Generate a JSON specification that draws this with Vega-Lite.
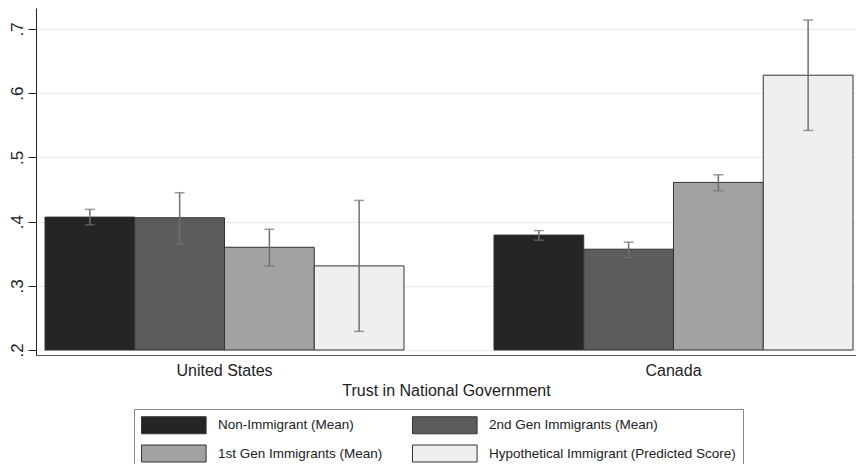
{
  "$schema": "https://vega.github.io/schema/vega-lite/v6.json",
  "width": 820,
  "height": 347,
  "padding": {"left": 36, "top": 8, "right": 0, "bottom": 109},
  "autosize": {"type": "none"},
  "background": "white",
  "config": {"view": {"stroke": null}, "font": "Liberation Sans"},
  "data": {"values": [
    {"country": "United States", "group": "Non-Immigrant (Mean)", "mean": 0.407, "lo": 0.395, "hi": 0.419},
    {"country": "United States", "group": "2nd Gen Immigrants (Mean)", "mean": 0.406, "lo": 0.365, "hi": 0.445},
    {"country": "United States", "group": "1st Gen Immigrants (Mean)", "mean": 0.360, "lo": 0.331, "hi": 0.388},
    {"country": "United States", "group": "Hypothetical Immigrant (Predicted Score)", "mean": 0.331, "lo": 0.229, "hi": 0.433},
    {"country": "Canada", "group": "Non-Immigrant (Mean)", "mean": 0.379, "lo": 0.371, "hi": 0.386},
    {"country": "Canada", "group": "2nd Gen Immigrants (Mean)", "mean": 0.357, "lo": 0.344, "hi": 0.368},
    {"country": "Canada", "group": "1st Gen Immigrants (Mean)", "mean": 0.461, "lo": 0.448, "hi": 0.473},
    {"country": "Canada", "group": "Hypothetical Immigrant (Predicted Score)", "mean": 0.628, "lo": 0.542, "hi": 0.714}
  ]},
  "encoding": {
    "x": {
      "field": "country", "type": "nominal", "sort": ["United States", "Canada"],
      "scale": {"paddingInner": 0.2004, "paddingOuter": 0.01336, "align": 0.75},
      "title": "Trust in National Government",
      "axis": {"orient": "bottom", "domainColor": "#555", "ticks": false, "labelAngle": 0, "labelFontSize": 16, "labelPadding": 7, "labelColor": "#222", "titleFontSize": 16, "titleFontWeight": "normal", "titleColor": "#222", "titlePadding": 4, "grid": false}
    },
    "xOffset": {
      "field": "group", "type": "nominal",
      "sort": ["Non-Immigrant (Mean)", "2nd Gen Immigrants (Mean)", "1st Gen Immigrants (Mean)", "Hypothetical Immigrant (Predicted Score)"],
      "scale": {"paddingInner": 0, "paddingOuter": 0}
    }
  },
  "layer": [
    {
      "mark": {"type": "bar", "stroke": "#333333", "strokeWidth": 1},
      "encoding": {
        "y": {
          "field": "mean", "type": "quantitative", "title": null,
          "scale": {"domain": [0.1922, 0.7327], "zero": false, "nice": false},
          "axis": {"values": [0.2, 0.3, 0.4, 0.5, 0.6, 0.7], "labelExpr": "replace(format(datum.value, '.1f'), '0.', '.')", "labelAngle": 270, "labelFontSize": 17, "labelColor": "#222", "labelPadding": 2, "tickColor": "#222", "tickSize": 8, "domainColor": "#222", "grid": true, "gridColor": "#e8e8e8"}
        },
        "y2": {"datum": 0.2},
        "fill": {
          "field": "group", "type": "nominal",
          "scale": {"domain": ["Non-Immigrant (Mean)", "2nd Gen Immigrants (Mean)", "1st Gen Immigrants (Mean)", "Hypothetical Immigrant (Predicted Score)"], "range": ["#252525", "#5c5c5c", "#a2a2a2", "#efefef"]},
          "legend": {"orient": "none", "legendX": 98, "legendY": 401, "direction": "horizontal", "columns": 2, "title": null, "symbolType": "M-1,-1H6.6V1H-1Z", "symbolSize": 289, "symbolStrokeColor": "#333333", "symbolStrokeWidth": 1, "labelOffset": 59, "labelFontSize": 13.5, "labelColor": "#222", "labelLimit": 400, "padding": 7, "rowPadding": 6.5, "columnPadding": 27, "fillColor": "white", "strokeColor": "#888888"}
        }
      }
    },
    {
      "mark": {"type": "rule", "color": "#707070", "strokeWidth": 1.5},
      "encoding": {
        "y": {"field": "lo", "type": "quantitative", "title": null},
        "y2": {"field": "hi"}
      }
    },
    {
      "mark": {"type": "tick", "color": "#707070", "thickness": 1.5, "size": 10},
      "encoding": {"y": {"field": "lo", "type": "quantitative", "title": null}}
    },
    {
      "mark": {"type": "tick", "color": "#707070", "thickness": 1.5, "size": 10},
      "encoding": {"y": {"field": "hi", "type": "quantitative", "title": null}}
    }
  ]
}
